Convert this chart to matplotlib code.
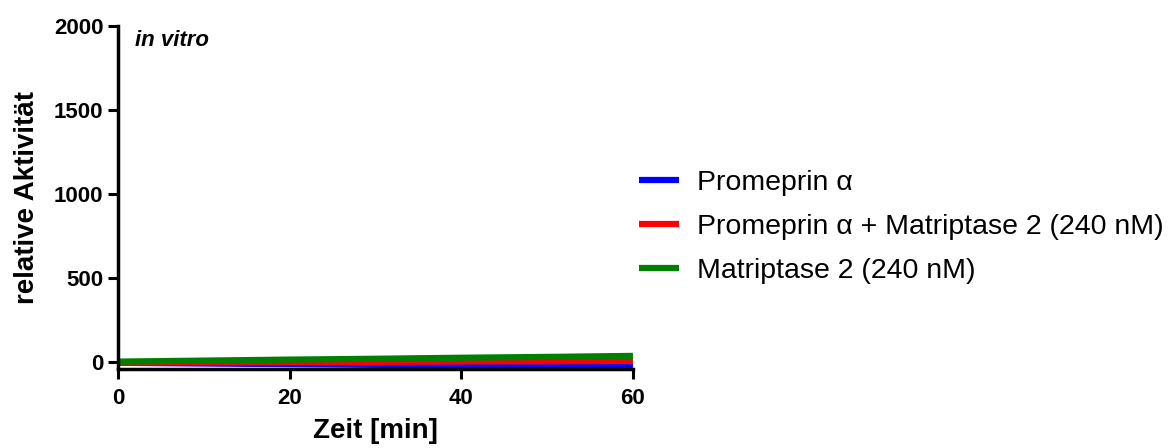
import numpy as np
import matplotlib.pyplot as plt

plt.rcParams['font.family'] = ['Liberation Sans', 'DejaVu Sans']

# time [min]
zeit = [0, 10, 20, 30, 40, 50, 60]
# relative activity per series
promeprin = [-5, -9, -13, -17, -21, -25, -28]
promeprin_mat = [-5, -3, -1, 1, 3, 4, 6]
matriptase = [2, 8, 14, 19, 25, 30, 36]

labels = ["Promeprin \u03b1",
          "Promeprin \u03b1 + Matriptase 2 (240 nM)",
          "Matriptase 2 (240 nM)"]
colors = ["#0000ff", "#ff0000", "#008000"]

fig = plt.figure(figsize=(11.73, 4.48), dpi=100)
ax = fig.add_axes([0.1006, 0.1763, 0.439, 0.7657])

for ys, lab, c in zip([promeprin, promeprin_mat, matriptase], labels, colors):
    ax.plot(zeit, ys, color=c, lw=4.5, label=lab, solid_capstyle='butt')

ax.set_xlim(0, 60)
ax.set_ylim(-42, 2000)
ax.set_xticks([0, 20, 40, 60])
ax.set_yticks([0, 500, 1000, 1500, 2000])

for s in ['top', 'right']:
    ax.spines[s].set_visible(False)
for s in ['left', 'bottom']:
    ax.spines[s].set_linewidth(2.5)

ax.tick_params(direction='out', length=7, width=2.2, labelsize=16)
ax.tick_params(axis='x', pad=7)
for t in ax.get_xticklabels() + ax.get_yticklabels():
    t.set_fontweight('bold')

ax.set_xlabel("Zeit [min]", fontsize=20, fontweight='bold', labelpad=6)
ax.set_ylabel("relative Aktivit\u00e4t", fontsize=20, fontweight='bold', labelpad=10)

ax.text(0.033, 0.959, "in vitro", transform=ax.transAxes, fontsize=16,
        fontweight='bold', fontstyle='italic', va='center', ha='left')

fig.legend(loc='center left', bbox_to_anchor=(0.545, 0.494), frameon=False,
           fontsize=20.5, handlelength=1.4, handletextpad=0.63,
           labelspacing=0.63, borderpad=0, borderaxespad=0)

fig.savefig("out.png", dpi=100)
